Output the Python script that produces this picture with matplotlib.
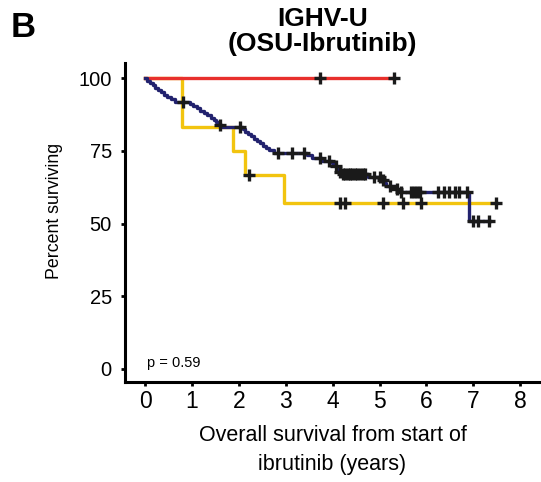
import numpy as np
import matplotlib
matplotlib.use('Agg')
import matplotlib.pyplot as plt

plt.rcParams['font.family'] = ['Liberation Sans', 'DejaVu Sans']

# Kaplan-Meier step data (time in years, percent surviving)
red_times = [0.0]
red_surv = [100.0]
red_end = 5.30
red_censor = [3.73, 5.30]

yellow_times = [0.0, 0.78, 1.87, 2.13, 2.96]
yellow_surv = [100.0, 83.3, 75.0, 66.7, 57.1]
yellow_end = 7.48
yellow_censor = [2.22, 4.16, 4.26, 5.08, 5.49, 5.88, 7.48]

navy_times = [0.0, 0.05, 0.10, 0.16, 0.21, 0.27, 0.33, 0.40, 0.47, 0.55,
              0.63, 0.95, 1.02, 1.10, 1.17, 1.25, 1.32, 1.40, 1.46, 1.52,
              1.58, 1.64, 2.08, 2.14, 2.20, 2.26, 2.32, 2.38, 2.45, 2.52,
              2.58, 2.65, 2.74, 3.45, 3.55, 3.78, 3.98, 4.06, 4.10, 4.14,
              4.20, 4.76, 5.03, 5.10, 5.14, 5.35, 5.42, 6.90]
navy_surv = [100.0, 99.2, 98.4, 97.6, 96.8, 96.0, 95.2, 94.4, 93.6, 92.8,
             92.0, 91.2, 90.4, 89.6, 88.8, 88.0, 87.2, 86.4, 85.6, 84.8,
             84.0, 83.2, 82.4, 81.6, 80.8, 80.0, 79.2, 78.4, 77.6, 76.8,
             76.0, 75.2, 74.4, 73.5, 72.6, 71.7, 70.8, 69.8, 68.8, 67.8,
             67.0, 66.0, 65.0, 64.0, 63.0, 62.0, 61.0, 51.0]
navy_end = 7.36
navy_censor = [0.80, 1.60, 2.03, 2.84, 3.13, 3.38, 3.72, 3.92, 4.07, 4.16,
               4.22, 4.27, 4.32, 4.37, 4.42, 4.47, 4.52, 4.58, 4.64, 4.70,
               4.88, 5.00, 5.07, 5.22, 5.38, 5.46, 5.66, 5.73, 5.80, 5.86,
               6.25, 6.38, 6.48, 6.60, 6.70, 6.87, 7.00, 7.10, 7.33]

x_ticks = [0, 1, 2, 3, 4, 5, 6, 7, 8]
y_ticks = [0, 25, 50, 75, 100]
p_text = 'p = 0.59'


def surv_at(times, surv, t):
    idx = np.searchsorted(times, t, side='right') - 1
    return np.asarray(surv)[idx]


def draw_km(ax, times, surv, t_end, censor, color):
    t = list(times) + [t_end]
    s = list(surv) + [surv[-1]]
    ax.step(t, s, where='post', color=color, lw=2.4, zorder=2)
    c_y = surv_at(times, surv, censor)
    ax.plot(censor, c_y, ls='none', marker='+', ms=8.5, mew=2.4,
            color='#1a1a1a', zorder=3)


fig = plt.figure(figsize=(5.41, 4.82), dpi=100)
ax = fig.add_axes([0.231, 0.2075, 0.767, 0.6615])

draw_km(ax, yellow_times, yellow_surv, yellow_end, yellow_censor, '#f2c40f')
draw_km(ax, red_times, red_surv, red_end, red_censor, '#e8302c')
draw_km(ax, navy_times, navy_surv, navy_end, navy_censor, '#22226e')

ax.set_xlim(-0.43, 8.42)
ax.set_ylim(-4.5, 105.2)
ax.set_xticks(x_ticks)
ax.set_yticks(y_ticks)
ax.tick_params(width=2, length=3, color='black')
ax.tick_params(axis='x', labelsize=16.5, pad=3)
ax.tick_params(axis='y', labelsize=14.5, pad=6.5)
for side in ['top', 'right']:
    ax.spines[side].set_visible(False)
for side in ['left', 'bottom']:
    ax.spines[side].set_linewidth(2.2)

ax.set_xlabel('Overall survival from start of\nibrutinib (years)', fontsize=15.5,
              linespacing=1.5)
ax.xaxis.set_label_coords(0.5, -0.136, transform=ax.transAxes)
ax.xaxis.label.set_va('top')
ax.set_ylabel('Percent surviving', fontsize=12.8)
ax.yaxis.set_label_coords(-0.15, 0.535)
ax.text(0.05, 2, p_text, fontsize=10.5, va='center', ha='left')

fig.text(0.596, 0.985, 'IGHV-U\n(OSU-Ibrutinib)', ha='center', va='top',
         fontsize=19, fontweight='bold', linespacing=1.05)
fig.text(0.02, 0.977, 'B', ha='left', va='top', fontsize=25,
         fontweight='bold')

fig.savefig('out.png', dpi=100)
